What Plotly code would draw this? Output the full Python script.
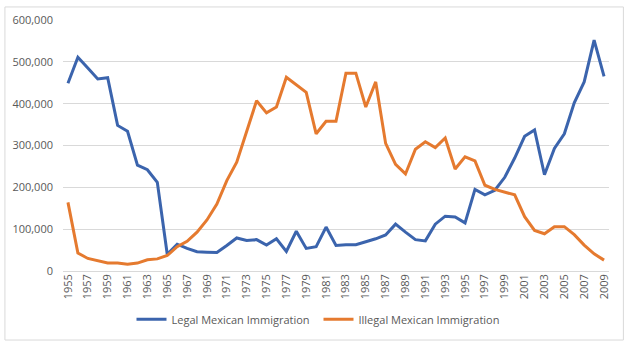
import plotly.graph_objects as go

# Years covered by both series
years = list(range(1955, 2010))

legal = [
    449000, 511000, 485000, 459000, 462000, 348000, 334000, 253000, 242000, 212000,
    40000, 64000, 54000, 46000, 45000, 44000, 61000, 79000, 73000, 75000,
    62000, 77000, 47000, 95000, 54000, 58000, 105000, 61000, 63000, 63000,
    70000, 77000, 86000, 112000, 93000, 75000, 72000, 112000, 131000, 129000,
    115000, 195000, 182000, 193000, 224000, 270000, 322000, 337000, 230000, 293000,
    328000, 402000, 452000, 552000, 465000,
]

illegal = [
    164000, 43000, 30000, 24000, 19000, 19000, 16000, 19000, 27000, 29000,
    37000, 58000, 71000, 93000, 122000, 160000, 216000, 260000, 332000, 407000,
    378000, 392000, 463000, 446000, 427000, 328000, 358000, 358000, 473000, 473000,
    392000, 452000, 305000, 255000, 232000, 291000, 309000, 295000, 318000, 244000,
    273000, 263000, 205000, 195000, 189000, 182000, 130000, 97000, 89000, 106000,
    106000, 87000, 62000, 41000, 26000,
]

y_ticks = [0, 100000, 200000, 300000, 400000, 500000, 600000]
x_ticks = list(range(1955, 2010, 2))

BLUE = "#3B64AD"
ORANGE = "#E57A2F"
TEXT = "#595959"
GRID = "#D9D9D9"

fig = go.Figure()
fig.add_trace(go.Scatter(
    x=years, y=legal, mode="lines", name="Legal Mexican Immigration",
    line=dict(color=BLUE, width=3),
))
fig.add_trace(go.Scatter(
    x=years, y=illegal, mode="lines", name="Illegal Mexican Immigration",
    line=dict(color=ORANGE, width=3),
))

L, R, T, B = 59, 15, 14, 72
W, H = 624, 346
pw, ph = W - L - R, H - T - B

fig.update_layout(
    width=W, height=H,
    margin=dict(l=L, r=R, t=T, b=B),
    paper_bgcolor="white", plot_bgcolor="white",
    font=dict(family="Open Sans, Liberation Sans, sans-serif", size=11, color=TEXT),
    showlegend=True,
    legend=dict(
        orientation="h", x=(128 - L) / pw, xanchor="left",
        y=(T + ph - 324) / ph, yanchor="middle",
        font=dict(size=11, color=TEXT),
        entrywidth=142, entrywidthmode="pixels",
        bgcolor="rgba(0,0,0,0)", borderwidth=0,
    ),
    xaxis=dict(
        range=[1954.5, 2009.5],
        tickmode="array", tickvals=x_ticks, ticktext=[str(y) for y in x_ticks],
        tickangle=-90, showgrid=False, zeroline=False,
        showline=False, ticks="", fixedrange=True,
        tickfont=dict(size=11, color=TEXT),
    ),
    yaxis=dict(
        range=[0, 600000],
        tickmode="array", tickvals=y_ticks,
        ticktext=[f"{v:,}" for v in y_ticks],
        showgrid=True, gridcolor=GRID, gridwidth=1,
        zeroline=True, zerolinecolor=GRID, zerolinewidth=1,
        showline=False, ticks="", ticklabelstandoff=9,
        tickfont=dict(size=11, color=TEXT),
    ),
    shapes=[dict(
        type="rect", xref="paper", yref="paper",
        x0=(0.5 - L) / pw, x1=(W - 0.5 - L) / pw,
        y0=(T + ph - (H - 0.5)) / ph, y1=(T + ph - 0.5) / ph,
        line=dict(color="#D9D9D9", width=1), fillcolor="rgba(0,0,0,0)",
        layer="below",
    )],
)

fig.write_html("out.html")
